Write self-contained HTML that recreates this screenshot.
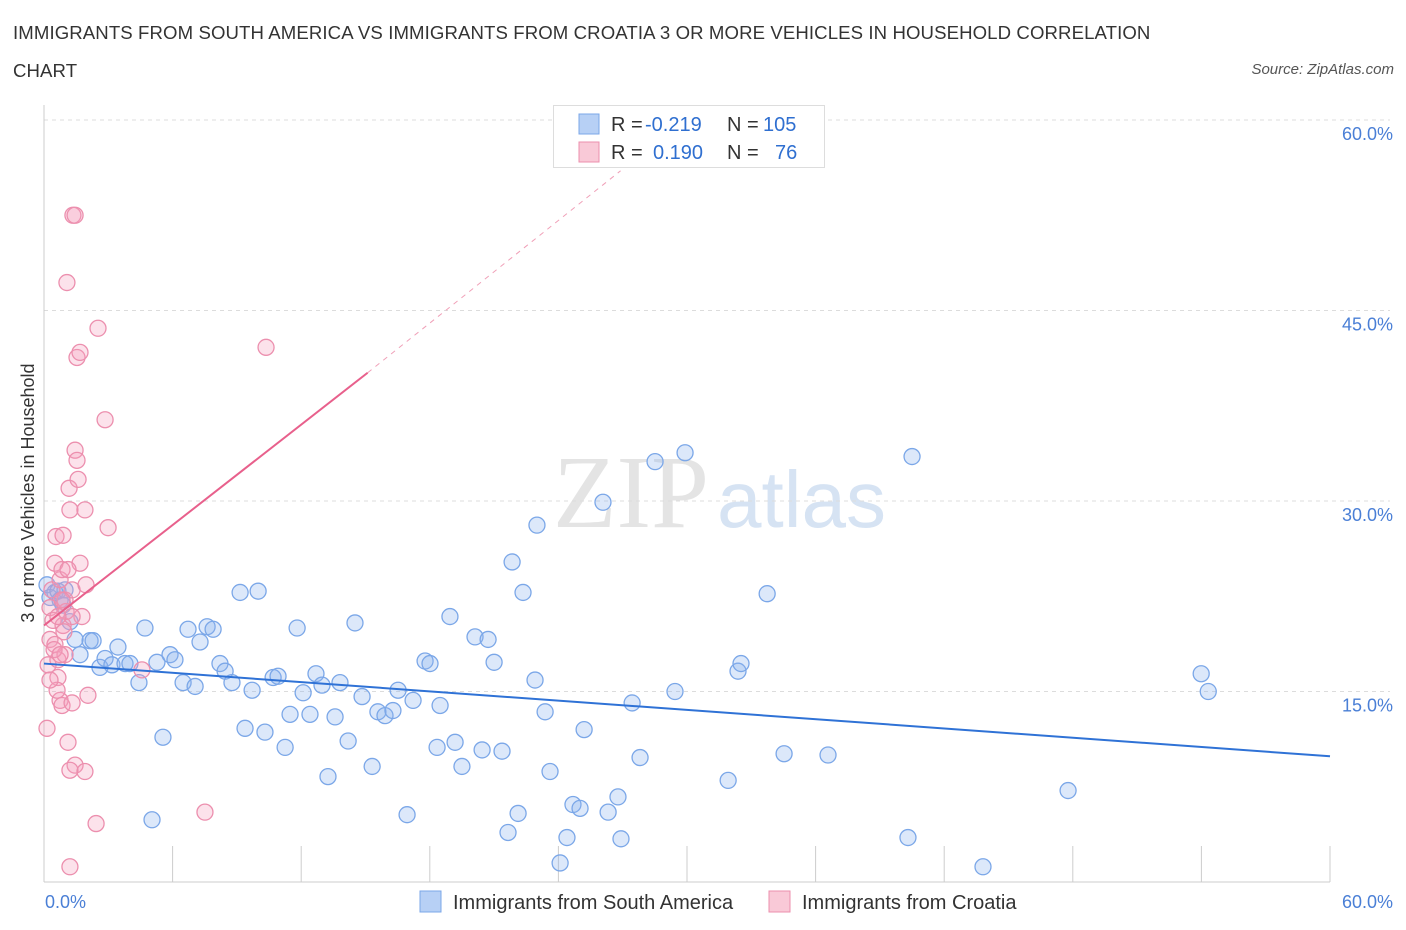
<!DOCTYPE html>
<html><head><meta charset="utf-8">
<style>
body{margin:0;background:#fff;font-family:"Liberation Sans",sans-serif;}
#wrap{position:relative;width:1406px;height:930px;overflow:hidden;}
.title{position:absolute;left:13px;top:14px;font-size:18.6px;color:#333;line-height:38px;letter-spacing:0.1px;}
.source{position:absolute;right:12px;top:61px;font-size:15px;font-style:italic;color:#555;}
</style></head><body>
<div id="wrap">
<div class="title">IMMIGRANTS FROM SOUTH AMERICA VS IMMIGRANTS FROM CROATIA 3 OR MORE VEHICLES IN HOUSEHOLD CORRELATION<br>CHART</div>
<div class="source">Source: ZipAtlas.com</div>
<svg id="svg" width="1406" height="930" style="position:absolute;left:0;top:0"></svg>
</div>
<script>
const blueX=[0.14,0.28,0.51,0.65,0.75,0.89,0.98,1.21,1.45,1.68,2.15,2.29,2.61,2.85,3.17,3.45,3.78,4.01,4.43,4.71,5.04,5.27,5.55,5.88,6.11,6.49,6.72,7.05,7.28,7.61,7.89,8.21,8.45,8.77,9.15,9.38,9.71,9.99,10.31,10.69,10.92,11.25,11.48,11.81,12.09,12.41,12.69,12.97,13.25,13.58,13.81,14.19,14.51,14.84,15.31,15.58,15.91,16.28,16.52,16.94,17.22,17.78,18.01,18.34,18.48,18.94,19.18,19.50,20.11,20.44,20.72,21.00,21.37,21.65,21.84,22.12,22.35,22.91,23.00,23.38,23.61,24.08,24.40,24.68,25.01,25.20,26.08,26.32,26.78,26.92,27.44,27.81,28.51,29.44,29.91,31.92,32.38,32.52,33.74,34.53,36.58,40.31,40.50,43.81,47.78,53.99,54.32];
const blueY=[23.4,22.4,22.8,22.9,22.2,21.8,23.0,20.5,19.1,17.9,19.0,19.0,16.9,17.6,17.1,18.5,17.2,17.2,15.7,20.0,4.9,17.3,11.4,17.9,17.5,15.7,19.9,15.4,18.9,20.1,19.9,17.2,16.6,15.7,22.8,12.1,15.1,22.9,11.8,16.1,16.2,10.6,13.2,20.0,14.9,13.2,16.4,15.5,8.3,13.0,15.7,11.1,20.4,14.6,9.1,13.4,13.1,13.5,15.1,5.3,14.3,17.4,17.2,10.6,13.9,20.9,11.0,9.1,19.3,10.4,19.1,17.3,10.3,3.9,25.2,5.4,22.8,15.9,28.1,13.4,8.7,1.5,3.5,6.1,5.8,12.0,29.9,5.5,6.7,3.4,14.1,9.8,33.1,15.0,33.8,8.0,16.6,17.2,22.7,10.1,10.0,3.5,33.5,1.2,7.2,16.4,15.0];
const pinkX=[0.14,0.19,0.28,0.28,0.37,0.42,0.51,0.51,0.56,0.65,0.65,0.75,0.75,0.84,0.84,0.89,0.89,0.98,0.98,1.03,1.07,1.12,1.17,1.21,1.21,1.31,1.31,1.35,1.45,1.45,1.45,1.54,1.54,1.59,1.68,1.68,1.77,1.91,1.91,1.96,2.05,2.43,2.52,2.85,2.99,4.57,7.51,10.36,1.12,0.61,0.93,1.21,0.47,0.75,0.28,0.84,1.31,0.65];
const pinkY=[12.1,17.1,19.1,21.6,23.0,20.6,18.7,25.1,27.2,17.5,16.1,14.3,23.8,13.9,24.6,27.3,20.2,17.9,22.2,21.3,47.2,11.0,31.0,29.3,1.2,23.0,14.1,52.5,52.5,34.0,9.2,33.2,41.3,31.7,41.7,25.1,20.9,29.3,8.7,23.4,14.7,4.6,43.6,36.4,27.9,16.7,5.5,42.1,24.6,15.1,19.7,8.8,18.3,17.9,15.9,22.2,20.9,20.9];
const blueTrend=[17.2,9.9];
const pinkTrendX=[0,15.1,26.9];
const pinkTrendY=[20.2,40.1,56.0];
const xTicks=["0.0%","60.0%"];
const yTicks=[15,30,45,60];

const X0=44,X1=1330,Y0=882,Y60=120;
const sx=v=>X0+(v/60)*(X1-X0);
const sy=v=>Y0-(v/60)*(Y0-Y60);
const svg=document.getElementById('svg');
const NS='http://www.w3.org/2000/svg';
function mk(t,a,p){const e=document.createElementNS(NS,t);for(const k in a)e.setAttribute(k,a[k]);(p||svg).appendChild(e);return e;}

let wm=mk('text',{x:553,y:527,'font-size':104,'font-family':'Liberation Serif, serif',fill:'#e4e4e4'});wm.textContent='ZIP';


let wm2=mk('text',{x:717,y:527,'font-size':80,'font-family':'Liberation Sans, sans-serif',fill:'#d6e3f3'});wm2.textContent='atlas';



yTicks.forEach(t=>{
  const g=mk('line',{x1:X0,x2:X1+60,y1:sy(t),y2:sy(t),stroke:'#dcdcdc','stroke-dasharray':'4,4'});
  
  
  const l=mk('text',{x:1393,y:sy(t)+20,'text-anchor':'end','font-size':18,fill:'#4a7fd6'});l.textContent=t.toFixed(1)+'%';
  
  
});
let ax=mk('line',{x1:X0,x2:X1,y1:Y0,y2:Y0,stroke:'#ccc'});


let ay=mk('line',{x1:X0,x2:X0,y1:105,y2:Y0,stroke:'#ccc'});


for(let i=0;i<=10;i++){
  const t=mk('line',{x1:sx(i*6),x2:sx(i*6),y1:Y0,y2:Y0-36,stroke:'#ccc'});
  
  
}
let xl0=mk('text',{x:45,y:908,'font-size':18,fill:'#4a7fd6'});xl0.textContent=xTicks[0];


let xl1=mk('text',{x:1393,y:908,'text-anchor':'end','font-size':18,fill:'#4a7fd6'});xl1.textContent=xTicks[1];


let yt=mk('text',{x:34,y:493,'font-size':18,fill:'#333',transform:'rotate(-90 34 493)','text-anchor':'middle'});yt.textContent='3 or more Vehicles in Household';



blueX.forEach((v,i)=>{
  const c=mk('circle',{cx:sx(v),cy:sy(blueY[i]),r:8,fill:'rgba(140,180,240,0.3)',stroke:'#7ba7e8','stroke-width':1.3});
  
  
});
pinkX.forEach((v,i)=>{
  const c=mk('circle',{cx:sx(v),cy:sy(pinkY[i]),r:8,fill:'rgba(245,160,190,0.3)',stroke:'#ec8fae','stroke-width':1.3});
  
  
});
let bt=mk('line',{x1:sx(0),y1:sy(blueTrend[0]),x2:sx(60),y2:sy(blueTrend[1]),stroke:'#2f72d6','stroke-width':2});


let pt=mk('line',{x1:sx(pinkTrendX[0]),y1:sy(pinkTrendY[0]),x2:sx(pinkTrendX[1]),y2:sy(pinkTrendY[1]),stroke:'#e8608c','stroke-width':2});


let pd=mk('line',{x1:sx(pinkTrendX[1]),y1:sy(pinkTrendY[1]),x2:sx(pinkTrendX[2]),y2:sy(pinkTrendY[2]),stroke:'#f0a0b8','stroke-width':1,'stroke-dasharray':'5,5'});



let lb=mk('rect',{x:553.5,y:105.5,width:271,height:62,fill:'#fff',stroke:'#ddd'});


[[0,'#b7d0f5','#7ba7e8','-0.219','105'],[1,'#f9c9d7','#ec8fae','0.190','76']].forEach(r=>{
  const y=114+r[0]*28;
  const s=mk('rect',{x:579,y:y,width:20,height:20,fill:r[1],stroke:r[2]});
  
  
  const t=mk('text',{x:611,y:y+17,'font-size':20,fill:'#333'});
  t.innerHTML='R = <tspan fill="#2f6fd0" x="'+(r[0]?653:645)+'">'+r[3]+'</tspan><tspan x="727" fill="#333">N = </tspan><tspan fill="#2f6fd0" x="'+(r[0]?775:763)+'">'+r[4]+'</tspan>';
  
  
});
[[420,'#b7d0f5','#7ba7e8','Immigrants from South America'],[769,'#f9c9d7','#ec8fae','Immigrants from Croatia']].forEach(r=>{
  const s=mk('rect',{x:r[0],y:891,width:21,height:21,fill:r[1],stroke:r[2]});
  
  
  const t=mk('text',{x:r[0]+33,y:909,'font-size':20,fill:'#333'});t.textContent=r[3];
  
  
});
</script>
</body></html>
